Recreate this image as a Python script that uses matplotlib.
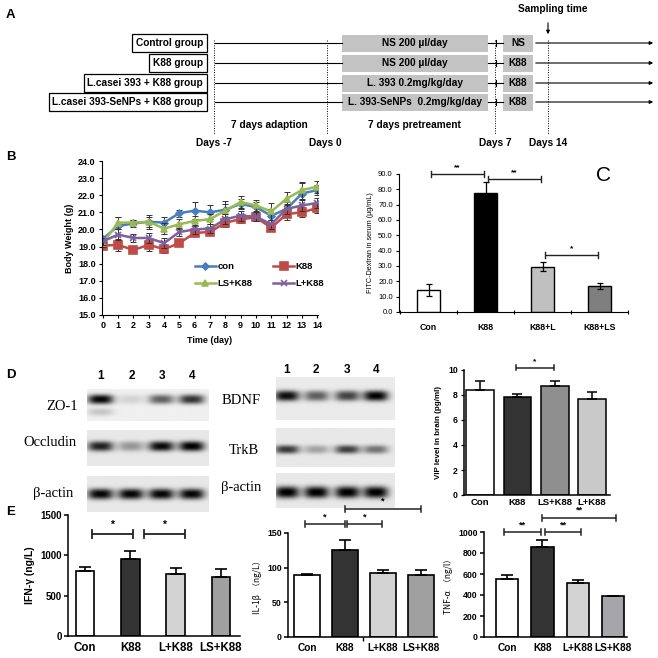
import numpy as np
import matplotlib
matplotlib.use('Agg')
import matplotlib.pyplot as plt
from matplotlib.patches import Rectangle

plt.rcParams['font.family'] = ['Liberation Sans', 'DejaVu Sans']

# ---------------- data ----------------
# Panel A
group_labels = ["Control group", "K88 group", "L.casei 393 + K88 group", "L.casei 393-SeNPs + K88 group"]
pretreat_labels = ["NS 200 \u00b5l/day", "NS 200 \u00b5l/day", "L. 393 0.2mg/kg/day", "L. 393-SeNPs  0.2mg/kg/day"]
challenge_labels = ["NS", "K88", "K88", "K88"]
day_labels = ["Days -7", "Days 0", "Days 7", "Days 14"]
period_labels = ["7 days adaption", "7 days pretreament"]

# Panel B
days = list(range(15))
bw_con = [19.45, 20.2, 20.35, 20.45, 20.4, 20.95, 21.1, 21.0, 21.15, 21.5, 21.3, 20.8, 21.2, 22.1, 22.3]
bw_con_err = [0.15, 0.5, 0.2, 0.4, 0.3, 0.2, 0.5, 0.4, 0.5, 0.3, 0.3, 0.4, 0.4, 0.6, 0.3]
bw_k88 = [19.05, 19.1, 18.8, 19.1, 18.85, 19.2, 19.8, 19.85, 20.4, 20.6, 20.7, 20.1, 20.9, 21.0, 21.25]
bw_k88_err = [0.2, 0.35, 0.15, 0.35, 0.25, 0.15, 0.2, 0.2, 0.25, 0.25, 0.2, 0.15, 0.35, 0.3, 0.3]
bw_ls = [19.2, 20.4, 20.4, 20.45, 20.05, 20.3, 20.5, 20.6, 21.1, 21.6, 21.4, 21.05, 21.8, 22.3, 22.5]
bw_ls_err = [0.2, 0.35, 0.15, 0.3, 0.3, 0.3, 0.3, 0.3, 0.4, 0.35, 0.3, 0.5, 0.4, 0.5, 0.35]
bw_l = [19.3, 19.7, 19.5, 19.5, 19.2, 19.85, 20.0, 20.05, 20.6, 20.8, 20.75, 20.3, 21.2, 21.4, 21.55]
bw_l_err = [0.2, 0.3, 0.25, 0.3, 0.3, 0.25, 0.25, 0.25, 0.3, 0.3, 0.25, 0.25, 0.3, 0.3, 0.3]

# Panel C
fitc_groups = ["Con", "K88", "K88+L", "K88+LS"]
fitc_vals = [14.5, 77.5, 29.5, 17.0]
fitc_err = [4.0, 7.0, 3.0, 2.2]

# Panel D blots (relative band intensities, lanes 1-4)
zo1 = [1.0, 0.12, 0.6, 0.8]
zo1_lower = [0.18, 0.0, 0.0, 0.0]
occludin = [0.85, 0.35, 0.95, 1.0]
actin_left = [0.97, 0.97, 0.97, 0.97]
bdnf = [0.95, 0.6, 0.72, 1.0]
trkb = [0.75, 0.3, 0.72, 0.5]
actin_right = [1.0, 1.0, 1.0, 1.0]
lanes = ["1", "2", "3", "4"]

# Panel D VIP
vip_groups = ["Con", "K88", "LS+K88", "L+K88"]
vip_vals = [8.4, 7.85, 8.7, 7.65]
vip_err = [0.7, 0.2, 0.45, 0.6]

# Panel E
e_groups = ["Con", "K88", "L+K88", "LS+K88"]
ifn_vals = [800, 960, 765, 730]
ifn_err = [60, 90, 75, 95]
il1b_vals = [90, 125, 93, 89]
il1b_err = [1.5, 15, 3, 8]
tnf_vals = [555, 860, 510, 390]
tnf_err = [40, 65, 30, 5]

# ---------------- figure ----------------
W = H = 658
fig = plt.figure(figsize=(6.58, 6.58), dpi=100)


def add_ax(x0, y0, x1, y1):
    return fig.add_axes([x0 / W, 1 - y1 / H, (x1 - x0) / W, (y1 - y0) / H])


def ftext(x, y, s, **kw):
    fig.text(x / W, 1 - y / H, s, **kw)


for lab, (x, y) in zip("ABDE", [(6, 15), (6, 157), (6, 375), (6, 512)]):
    ftext(x, y, lab, fontsize=9.5, fontweight='bold', ha='left', va='center')

# ---------------- Panel A ----------------
axA = add_ax(0, 0, 658, 150)
axA.set_xlim(0, 658)
axA.set_ylim(150, 0)
axA.axis('off')
row_y = [43, 63, 83, 102]
fsA = 7.3
for i, y in enumerate(row_y):
    axA.text(203, y, group_labels[i], ha='right', va='center', fontsize=fsA, fontweight='bold',
             bbox=dict(boxstyle='square,pad=0.35', fc='white', ec='black', lw=0.9))
    axA.plot([215, 342], [y, y], color='black', lw=0.8)
    axA.plot([488, 503], [y, y], color='black', lw=0.8)
    axA.plot([496, 496], [y - 3, y + 3], color='black', lw=0.8)
    axA.annotate('', xy=(656, y), xytext=(533, y),
                 arrowprops=dict(arrowstyle='-|>', lw=0.8, color='black', mutation_scale=5))
    axA.add_patch(Rectangle((342, y - 8.5), 146, 17, fc='#c3c3c3', ec='none'))
    axA.add_patch(Rectangle((503, y - 8.5), 30, 17, fc='#c3c3c3', ec='none'))
    axA.text(415, y, pretreat_labels[i], ha='center', va='center', fontsize=fsA, fontweight='bold')
    axA.text(518, y, challenge_labels[i], ha='center', va='center', fontsize=fsA, fontweight='bold')

day_x = [214, 327, 495, 548]
day_lx = [214, 325, 495, 548]
for dx, lx, dl in zip(day_x, day_lx, day_labels):
    axA.plot([dx, dx], [40, 134], color='black', lw=0.7, ls=(0, (1, 1.5)))
    axA.text(lx, 143, dl, ha='center', va='center', fontsize=fsA, fontweight='bold')
axA.text(269, 125, period_labels[0], ha='center', va='center', fontsize=fsA, fontweight='bold')
axA.text(414, 125, period_labels[1], ha='center', va='center', fontsize=fsA, fontweight='bold')
axA.text(553, 9, "Sampling time", ha='center', va='center', fontsize=fsA, fontweight='bold')
axA.annotate('', xy=(548, 37), xytext=(548, 20),
             arrowprops=dict(arrowstyle='-|>', lw=0.8, color='black', mutation_scale=5))

# ---------------- Panel B ----------------
axB = add_ax(102, 161, 318, 315)
series = [
    (bw_con, bw_con_err, 'con', '#4a7ebb', 'D', 3.5),
    (bw_k88, bw_k88_err, 'K88', '#be4b48', 's', 5.5),
    (bw_ls, bw_ls_err, 'LS+K88', '#98b954', '^', 5),
    (bw_l, bw_l_err, 'L+K88', '#7d60a0', 'x', 5),
]
handles = {}
for vals, err, name, col, mk, ms in series:
    axB.errorbar(days, vals, yerr=err, fmt='none', ecolor='#333333', elinewidth=0.7, capsize=2, capthick=0.7)
    h, = axB.plot(days, vals, color=col, marker=mk, ms=ms, lw=1.8, mew=1.2, label=name)
    handles[name] = h
axB.set_xlim(-0.05, 14.05)
axB.set_ylim(15, 24)
axB.set_yticks(np.arange(15, 24.1, 1.0))
axB.set_yticklabels([f"{v:.1f}" for v in np.arange(15, 24.1, 1.0)])
axB.set_xticks(days)
for s in ['top', 'right']:
    axB.spines[s].set_visible(False)
axB.tick_params(labelsize=6.5, length=2.5, width=0.8, pad=2)
for t in axB.get_xticklabels() + axB.get_yticklabels():
    t.set_fontweight('bold')
axB.set_ylabel("Body Weight (g)", fontsize=6.5, fontweight='bold', labelpad=3)
axB.set_xlabel("Time (day)", fontsize=6.5, fontweight='bold', labelpad=4)
leg_order = ['con', 'LS+K88', 'K88', 'L+K88']
leg = axB.legend([handles[k] for k in leg_order], leg_order, ncol=2, frameon=False, loc='upper left',
                 bbox_to_anchor=(0.39, 0.40), fontsize=6.8, handlelength=2.2, columnspacing=2.2,
                 handletextpad=0.2, labelspacing=0.9)
for t in leg.get_texts():
    t.set_fontweight('bold')


def bracket(ax, x1, x2, y, txt, tick, fs=7, lw=1.0, dy=0.0):
    ax.plot([x1, x2], [y, y], color='#222222', lw=lw, clip_on=False, solid_capstyle='butt')
    for xx in (x1, x2):
        ax.plot([xx, xx], [y - tick, y + tick], color='#222222', lw=lw, clip_on=False)
    ax.text((x1 + x2) / 2, y + tick * 0.9 + dy, txt, ha='center', va='bottom', fontsize=fs,
            fontweight='bold', clip_on=False)


# ---------------- Panel C ----------------
axC = add_ax(399, 174, 628, 312)
xc = np.arange(len(fitc_groups))
axC.bar(xc, fitc_vals, width=0.41, color=['white', 'black', '#c0c0c0', '#7f7f7f'],
        edgecolor='black', lw=1.0)
axC.errorbar(xc, fitc_vals, yerr=fitc_err, fmt='none', ecolor='black', elinewidth=0.9, capsize=2.2, capthick=0.9)
axC.set_xlim(-0.52, 3.5)
axC.set_ylim(0, 90)
axC.set_yticks(np.arange(0, 91, 10))
axC.set_yticklabels([f"{v:.1f}" for v in np.arange(0, 91, 10)])
axC.set_xticks(xc)
axC.set_xticklabels(fitc_groups)
axC.set_xticks([-0.5, 0.5, 1.5, 2.5, 3.5], minor=True)
axC.tick_params(axis='x', which='major', length=0, labelsize=6.3, pad=8)
axC.tick_params(axis='x', which='minor', length=3, width=0.8, direction='inout')
axC.tick_params(axis='y', labelsize=5.5, length=2.5, width=0.8, pad=2)
for t in axC.get_xticklabels():
    t.set_fontweight('bold')
for s in ['top', 'right']:
    axC.spines[s].set_visible(False)
axC.set_ylabel("FITC-Dextran in serum (\u00b5g/mL)", fontsize=5.2, labelpad=3)
bracket(axC, 0.04, 0.97, 90, "**", 2.0, fs=6)
bracket(axC, 1.04, 1.97, 87, "**", 2.0, fs=6)
bracket(axC, 2.04, 2.97, 37, "*", 2.0, fs=6)
axC.text(3.07, 89, "C", fontsize=15, ha='center', va='center')


# ---------------- Panel D blots ----------------
def blot(box, lane_fr, bands, bg=0.9):
    x0, y0, x1, y1 = box
    ax = add_ax(x0, y0, x1, y1)
    nx, ny = 240, 80
    xx = np.linspace(0, 1, nx)[None, :]
    yy = np.linspace(0, 1, ny)[:, None]
    img = np.full((ny, nx), bg)
    for intens, yc, sy in bands:
        for lx, a in zip(lane_fr, intens):
            img -= 0.92 * a * np.exp(-np.abs((xx - lx) / 0.105) ** 3) * np.exp(-np.abs((yy - yc) / sy) ** 2.5)
    img = np.clip(img, 0, 1)
    ax.imshow(img, cmap='gray', vmin=0, vmax=1, aspect='auto', extent=(0, 1, 1, 0),
              interpolation='bilinear')
    ax.set_xticks([])
    ax.set_yticks([])
    for s in ax.spines.values():
        s.set_visible(False)
    return ax


left_lanes = [0.11, 0.36, 0.61, 0.86]
right_lanes = [0.09, 0.34, 0.6, 0.84]
blot((87, 389, 208, 421), left_lanes, [(zo1, 0.32, 0.15), (zo1_lower, 0.72, 0.12)], bg=0.94)
blot((87, 430, 208, 466), left_lanes, [(occludin, 0.45, 0.14)], bg=0.91)
blot((87, 476, 208, 512), left_lanes, [(actin_left, 0.5, 0.15)], bg=0.91)
blot((276, 377, 395, 420), right_lanes, [(bdnf, 0.45, 0.12)], bg=0.92)
blot((276, 428, 395, 467), right_lanes, [(trkb, 0.55, 0.11)], bg=0.91)
blot((276, 473, 395, 508), right_lanes, [(actin_right, 0.55, 0.17)], bg=0.91)

for lx, ln in zip([101, 132, 162, 192], lanes):
    ftext(lx, 376, ln, fontsize=8.5, fontweight='bold', ha='center', va='center')
for lx, ln in zip([287, 316, 347, 376], lanes):
    ftext(lx, 370, ln, fontsize=8.5, fontweight='bold', ha='center', va='center')
serif = dict(family='Liberation Serif', fontsize=10.5, va='center', ha='right')
ftext(78, 406, "ZO-1", **serif)
ftext(77, 443, "Occludin", **serif)
ftext(73, 493, "\u03b2-actin", **serif)
ftext(261, 401, "BDNF", **serif)
ftext(259, 450, "TrkB", **serif)
ftext(261, 488, "\u03b2-actin", **serif)

# ---------------- Panel D VIP ----------------
axV = add_ax(464, 370, 610, 495)
xv = np.arange(len(vip_groups))
axV.bar(xv, vip_vals, width=0.74, color=['white', '#333333', '#8f8f8f', '#c9c9c9'],
        edgecolor='black', lw=1.1)
axV.errorbar(xv, vip_vals, yerr=[[0] * 4, vip_err], fmt='none', ecolor='black', elinewidth=1.1,
             capsize=3.5, capthick=1.1)
axV.set_xlim(-0.43, 3.48)
axV.set_ylim(0, 10)
axV.set_yticks(range(0, 11, 2))
axV.set_xticks(xv)
axV.set_xticklabels(vip_groups)
axV.tick_params(axis='both', labelsize=6.2, length=2.5, width=0.9, pad=2)
axV.tick_params(axis='x', labelsize=6.8, length=0)
for t in axV.get_xticklabels() + axV.get_yticklabels():
    t.set_fontweight('bold')
for s in ['top', 'right']:
    axV.spines[s].set_visible(False)
for s in ['left', 'bottom']:
    axV.spines[s].set_linewidth(1.1)
axV.set_ylabel("VIP level in brain (pg/ml)", fontsize=5.8, fontweight='bold', labelpad=4)
bracket(axV, 0.97, 1.97, 10.2, "*", 0.22, fs=6, lw=1.1)


# ---------------- Panel E ----------------
def ebar(box, vals, err, ylim, yticks, ylabel, colors, width, xlim, tfs, xfs, ylab_fs, fam=None):
    ax = add_ax(*box)
    x = np.arange(len(e_groups))
    ax.bar(x, vals, width=width, color=colors, edgecolor='black', lw=1.2)
    ax.errorbar(x, vals, yerr=[[0] * 4, err], fmt='none', ecolor='black', elinewidth=1.2,
                capsize=4, capthick=1.2)
    ax.set_xlim(*xlim)
    ax.set_ylim(*ylim)
    ax.set_yticks(yticks)
    ax.set_xticks(x)
    ax.set_xticklabels(e_groups)
    ax.tick_params(axis='y', labelsize=tfs, length=3, width=1.1, pad=1.5)
    ax.tick_params(axis='x', labelsize=xfs, length=0, pad=4)
    for t in ax.get_xticklabels() + ax.get_yticklabels():
        t.set_fontweight('bold')
    for s in ['top', 'right']:
        ax.spines[s].set_visible(False)
    for s in ['left', 'bottom']:
        ax.spines[s].set_linewidth(1.1)
    kw = dict(fontsize=ylab_fs, labelpad=4)
    if fam:
        kw['family'] = fam
    else:
        kw['fontweight'] = 'bold'
    ax.set_ylabel(ylabel, **kw)
    return ax


ecolors = ['white', '#333333', '#d3d3d3', '#a0a0a0']
cjk = ['Noto Sans CJK SC', 'DejaVu Sans']

axI = ebar((68, 515, 240, 636), ifn_vals, ifn_err, (0, 1500), [0, 500, 1000, 1500],
           "IFN-\u03b3 (ng/L)", ecolors, 0.41, (-0.38, 3.42), 7, 8.3, 7.5)
bracket(axI, 0.15, 1.05, 1265, "*", 55, fs=7.5, lw=1.3)
bracket(axI, 1.3, 2.2, 1265, "*", 55, fs=7.5, lw=1.3)

axL = ebar((288, 533, 437, 637), il1b_vals, il1b_err, (0, 150), [0, 50, 100, 150],
           "IL-1\u03b2  \uff08ng/L\uff09", ecolors, 0.68, (-0.5, 3.43), 6.3, 7.3, 6.0, fam=cjk)
axL.set_xticks([1.47], minor=True)
axL.tick_params(axis='x', which='minor', length=3, width=1.0)
bracket(axL, -0.05, 1.0, 163, "*", 4.5, fs=6.5, lw=1.1)
bracket(axL, 1.05, 1.98, 163, "*", 4.5, fs=6.5, lw=1.1)
bracket(axL, 1.0, 3.0, 185, "*", 4.5, fs=6.5, lw=1.1)

axT = ebar((484, 532, 627, 637), tnf_vals, tnf_err, (0, 1000), [0, 200, 400, 600, 800, 1000],
           "TNF-\u03b1  \uff08ng/l\uff09", ['white', '#333333', '#d3d3d3', '#a5a5aa'], 0.63,
           (-0.66, 3.4), 6.3, 7.3, 6.0, fam=cjk)
bracket(axT, -0.1, 0.97, 1000, "**", 30, fs=6.5, lw=1.1)
bracket(axT, 1.07, 2.1, 1000, "**", 30, fs=6.5, lw=1.1)
bracket(axT, 1.0, 3.1, 1135, "**", 30, fs=6.5, lw=1.1)

fig.savefig('out.png', dpi=100)
